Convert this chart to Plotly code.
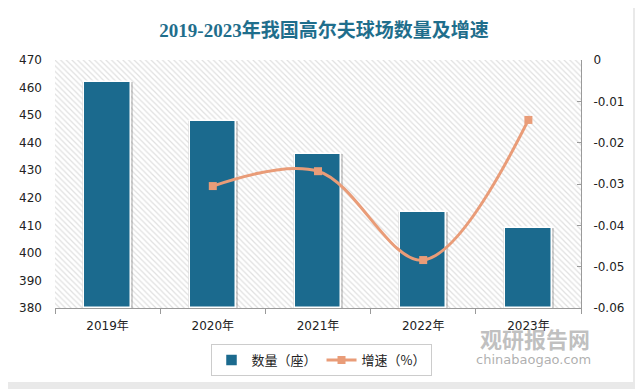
import plotly.graph_objects as go

CATEGORIES = ["2019年", "2020年", "2021年", "2022年", "2023年"]
COUNT = [462, 448, 436, 415, 409]
GROWTH_CATS = ["2020年", "2021年", "2022年", "2023年"]
GROWTH = [-0.0305, -0.0269, -0.0484, -0.0145]
LEFT_TICKS = [380, 390, 400, 410, 420, 430, 440, 450, 460, 470]
RIGHT_TICKS = [0, -0.01, -0.02, -0.03, -0.04, -0.05, -0.06]
RIGHT_TICK_TEXT = ["0", "-0.01", "-0.02", "-0.03", "-0.04", "-0.05", "-0.06"]
Y_MIN, Y_MAX = 380, 470
Y2_MIN, Y2_MAX = -0.06, 0

BAR_COLOR = "#1b6a8e"
LINE_COLOR = "#e99c78"
TICK_FONT = dict(family="DejaVu Sans, Noto Sans CJK SC", size=12, color="#222")

# page body has an 8px margin; layout positions below are in figure pixels
L, T, PW, PH = 47, 52, 526, 248
W, H = 643, 389


def px(x):
    return (x - L) / PW


def py(y):
    return (T + PH - y) / PH


fig = go.Figure()

# hatched plot-area background
fig.add_trace(go.Bar(
    x=[CATEGORIES[len(CATEGORIES) // 2]], y=[Y_MAX - Y_MIN], base=[Y_MIN],
    width=[len(CATEGORIES)],
    marker=dict(color="white", line=dict(width=0),
                pattern=dict(shape="\\", fgcolor="#c2c2c2", bgcolor="white",
                             size=4, solidity=0.3)),
    hoverinfo="skip", showlegend=False,
))
# soft bar shadow
fig.add_trace(go.Bar(
    x=CATEGORIES, y=[v - Y_MIN for v in COUNT], base=[Y_MIN] * len(COUNT),
    width=0.48,
    marker=dict(color="rgba(80,80,80,0.25)", line=dict(width=0)),
    hoverinfo="skip", showlegend=False,
))
fig.add_trace(go.Bar(
    x=CATEGORIES, y=[v - Y_MIN for v in COUNT], base=[Y_MIN] * len(COUNT),
    width=0.44, name="数量（座）",
    marker=dict(color=BAR_COLOR, line=dict(color="white", width=1.5)),
))
fig.add_trace(go.Scatter(
    x=GROWTH_CATS, y=GROWTH, yaxis="y2", name="增速（%）",
    mode="lines+markers",
    line=dict(color=LINE_COLOR, width=3, shape="spline", smoothing=1),
    marker=dict(symbol="square", size=8, color=LINE_COLOR),
))

fig.update_layout(
    width=W, height=H,
    margin=dict(l=L, r=W - L - PW, t=T, b=H - T - PH),
    paper_bgcolor="#e9e9e9",
    plot_bgcolor="rgba(0,0,0,0)",
    barmode="overlay",
    bargap=0,
    title=dict(text="<b>2019-2023年我国高尔夫球场数量及增速</b>",
               x=316 / W, xanchor="center", y=1 - 22 / H, yanchor="middle",
               font=dict(family="Liberation Serif, Noto Sans CJK SC", size=19,
                         color="#1f6e8c")),
    xaxis=dict(type="category", categoryorder="array", categoryarray=CATEGORIES,
               range=[-0.5, len(CATEGORIES) - 0.5],
               showgrid=False, showline=True, linecolor="#9a9a9a", linewidth=1,
               ticks="outside", tickson="boundaries", ticklen=5,
               tickcolor="#9a9a9a", tickfont=TICK_FONT, ticklabelstandoff=7),
    yaxis=dict(range=[Y_MIN, Y_MAX], tickvals=LEFT_TICKS, showgrid=False,
               showline=False, ticks="", tickfont=TICK_FONT, ticklabelstandoff=12),
    yaxis2=dict(overlaying="y", side="right", range=[Y2_MIN, Y2_MAX],
                tickvals=RIGHT_TICKS, ticktext=RIGHT_TICK_TEXT,
                showgrid=False, showline=True, linecolor="#9a9a9a",
                ticks="inside", ticklen=4, tickcolor="#9a9a9a",
                tickfont=TICK_FONT, zeroline=False, ticklabelstandoff=9),
    legend=dict(orientation="h", x=px(313), xanchor="center",
                y=py(352), yanchor="middle",
                bordercolor="#cccccc", borderwidth=1, bgcolor="white",
                font=dict(family="Noto Sans CJK SC", size=13, color="#222"),
                traceorder="normal"),
    shapes=[dict(type="rect", xref="paper", yref="paper", layer="below",
                 x0=px(0), x1=px(625), y0=py(374), y1=py(-1),
                 fillcolor="white", line=dict(width=0))],
    annotations=[
        dict(text="<b>观研报告网</b>", xref="paper", yref="paper",
             x=px(527), y=py(330), xanchor="center", yanchor="middle",
             showarrow=False,
             font=dict(family="Noto Sans CJK SC", size=22,
                       color="rgba(150,150,150,0.6)")),
        dict(text="chinabaogao.com", xref="paper", yref="paper",
             x=px(525), y=py(351), xanchor="center", yanchor="middle",
             showarrow=False,
             font=dict(family="DejaVu Sans", size=13,
                       color="rgba(140,140,140,0.7)")),
    ],
)

fig.write_html("out.html")
